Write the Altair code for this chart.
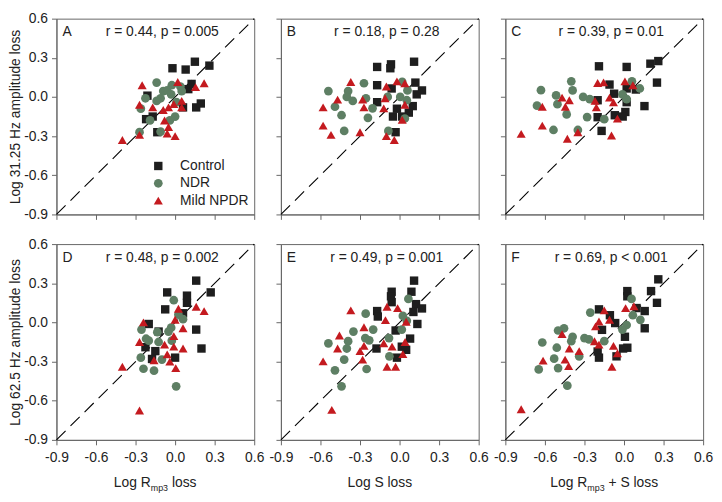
import altair as alt
import pandas as pd

FONT = "Liberation Sans"
groups = ["Control", "NDR", "Mild NPDR"]
colors = ["#1e1e1e", "#5e7f64", "#c41a1f"]
shapes = ["square", "circle", "triangle-up"]
sizes = [72, 84, 98]

ticks = [-0.9, -0.6, -0.3, 0.0, 0.3, 0.6]
diag = [-0.9, 0.6]

letters = ["A", "B", "C", "D", "E", "F"]
stats = ["r = 0.44, p = 0.005", "r = 0.18, p = 0.28", "r = 0.39, p = 0.01",
         "r = 0.48, p = 0.002", "r = 0.49, p = 0.001", "r = 0.69, p < 0.001"]
y_titles = ["Log 31.25 Hz amplitude loss", "Log 62.5 Hz amplitude loss"]
xtitle_d = ["Log R", "mp3", "loss"]
xtitle_e = ["Log S loss"]
xtitle_f = ["Log R", "mp3", "+ S loss"]

# ---- Panel A (x: log Rmp3 loss, y: log 31.25 Hz loss)
a_ctrl_x = [-0.02, 0.08, 0.15, 0.26, 0.10, 0.125, -0.21, 0.16, 0.195, 0.06, -0.22, -0.17, -0.135]
a_ctrl_y = [0.22, 0.21, 0.27, 0.24, 0.06, 0.10, 0.01, -0.08, -0.05, -0.08, -0.17, -0.15, -0.27]
a_ndr_x = [-0.14, -0.025, -0.09, -0.06, 0.04, 0.05, -0.225, -0.11, -0.14, -0.26, 0.0, -0.04, -0.19, -0.27, -0.11, -0.03, 0.01]
a_ndr_y = [0.11, 0.09, 0.045, 0.05, 0.08, 0.045, -0.01, -0.01, -0.03, -0.09, -0.15, -0.18, -0.18, -0.27, -0.265, 0.02, -0.04]
a_npdr_x = [-0.25, 0.02, 0.155, 0.22, -0.27, -0.17, -0.09, -0.05, -0.01, 0.05, 0.05, -0.08, -0.05, -0.06, 0.0, -0.27, -0.40]
a_npdr_y = [0.09, 0.115, 0.075, 0.105, -0.06, -0.08, -0.10, -0.08, -0.055, -0.03, -0.08, -0.18, -0.23, -0.28, -0.30, -0.29, -0.33]

# ---- Panel B (x: log S loss, y: log 31.25 Hz loss)
b_ctrl_x = [-0.17, -0.065, -0.07, 0.11, -0.17, -0.06, 0.12, 0.17, 0.13, -0.17, -0.02, 0.10, 0.07, -0.05, 0.02, -0.03]
b_ctrl_y = [0.23, 0.25, 0.22, 0.27, 0.09, 0.065, 0.11, 0.05, 0.02, -0.04, -0.09, -0.07, -0.12, -0.15, -0.15, -0.27]
b_ndr_x = [-0.54, -0.27, -0.39, -0.40, -0.355, -0.49, -0.255, -0.205, -0.44, -0.24, -0.42, 0.02, 0.06, 0.005, 0.055, 0.04, -0.085, -0.09]
b_ndr_y = [0.045, 0.105, 0.045, 0.0, -0.03, -0.075, -0.01, -0.087, -0.14, -0.16, -0.26, 0.115, 0.05, 0.0, -0.025, -0.165, -0.26, 0.0]
b_npdr_x = [-0.37, -0.47, -0.58, -0.28, -0.27, -0.30, -0.52, -0.58, -0.10, -0.02, 0.04, -0.11, -0.12, 0.04, 0.02, -0.10, -0.04]
b_npdr_y = [0.115, -0.02, -0.08, -0.02, -0.08, -0.27, -0.29, -0.22, 0.08, 0.12, 0.105, -0.01, -0.087, -0.06, -0.175, -0.30, -0.33]

# ---- Panel C (x: log Rmp3 + S loss, y: log 31.25 Hz loss)
c_ctrl_x = [-0.19, 0.02, 0.20, 0.26, 0.25, -0.11, -0.075, 0.02, 0.09, -0.20, 0.02, 0.155, -0.20, 0.01, -0.01, -0.07, -0.17]
c_ctrl_y = [0.235, 0.23, 0.255, 0.275, 0.11, 0.095, 0.025, 0.065, 0.057, -0.025, -0.04, -0.07, -0.155, -0.115, -0.15, -0.14, -0.26]
c_ndr_x = [-0.40, -0.39, -0.63, -0.515, -0.505, -0.66, -0.435, -0.31, -0.26, -0.28, -0.535, -0.35, -0.15, 0.06, 0.12, -0.012, 0.02]
c_ndr_y = [0.12, 0.05, 0.052, 0.012, -0.055, -0.067, -0.134, 0.0, -0.017, -0.154, -0.253, -0.253, -0.17, 0.12, 0.065, 0.02, -0.017]
c_npdr_x = [-0.78, -0.62, -0.62, -0.47, -0.415, -0.445, -0.43, -0.35, -0.20, -0.155, -0.22, -0.21, -0.11, -0.08, -0.05, -0.095, 0.007, 0.067]
c_npdr_y = [-0.283, -0.075, -0.22, -0.005, -0.025, -0.075, -0.32, -0.27, 0.107, 0.112, -0.03, -0.08, -0.005, -0.042, -0.166, -0.295, 0.12, 0.09]

# ---- Panel D (x: log Rmp3 loss, y: log 62.5 Hz loss)
d_ctrl_x = [0.16, -0.06, 0.09, 0.27, 0.09, -0.075, 0.06, -0.20, 0.16, 0.20, -0.225, -0.15, -0.175, 0.0, -0.125]
d_ctrl_y = [0.32, 0.23, 0.205, 0.23, 0.15, 0.10, 0.07, -0.012, -0.055, -0.20, -0.19, -0.22, -0.28, -0.27, -0.07]
d_ndr_x = [-0.01, 0.025, 0.06, -0.03, -0.05, -0.255, -0.135, -0.22, -0.20, -0.125, -0.26, -0.24, -0.16, -0.10, 0.008, -0.025]
d_ndr_y = [0.17, 0.06, 0.025, -0.04, -0.07, -0.055, -0.075, -0.125, -0.14, -0.15, -0.27, -0.355, -0.37, -0.285, -0.49, -0.14]
d_npdr_x = [-0.24, 0.025, 0.16, 0.22, 0.0, 0.06, -0.27, -0.01, -0.08, -0.01, 0.06, -0.06, -0.16, -0.04, 0.005, -0.40, -0.27]
d_npdr_y = [0.0, 0.105, 0.12, 0.087, 0.02, -0.045, -0.15, -0.105, -0.17, -0.186, -0.2, -0.245, -0.29, -0.30, -0.35, -0.34, -0.675]

# ---- Panel E (x: log S loss, y: log 62.5 Hz loss)
e_ctrl_x = [0.11, -0.06, 0.09, -0.065, -0.06, 0.125, 0.17, 0.105, -0.17, -0.165, 0.135, -0.03, 0.08, -0.175, 0.017, 0.05, -0.02]
e_ctrl_y = [0.32, 0.235, 0.235, 0.20, 0.155, 0.14, 0.107, 0.08, 0.087, 0.045, -0.012, -0.062, -0.124, -0.20, -0.186, -0.21, -0.27]
e_ndr_x = [0.067, -0.257, 0.025, 0.055, 0.017, -0.20, -0.35, -0.26, -0.23, -0.39, -0.54, -0.40, -0.42, -0.49, -0.25, -0.08, -0.077, -0.44]
e_ndr_y = [0.18, 0.067, 0.05, 0.012, -0.055, -0.055, -0.07, -0.12, -0.137, -0.144, -0.16, -0.2, -0.285, -0.367, -0.357, -0.12, -0.26, -0.49]
e_npdr_x = [-0.37, -0.095, -0.015, -0.107, 0.05, -0.27, -0.456, -0.47, -0.27, -0.30, -0.28, -0.58, -0.12, -0.057, 0.042, 0.025, -0.095, -0.03, -0.514]
e_npdr_y = [0.092, 0.12, 0.11, 0.017, 0.005, -0.037, -0.1, -0.2, -0.18, -0.22, -0.285, -0.298, -0.16, -0.186, -0.15, -0.243, -0.34, -0.34, -0.67]

# ---- Panel F (x: log Rmp3 + S loss, y: log 62.5 Hz loss)
f_ctrl_x = [0.26, 0.025, 0.205, 0.025, 0.25, -0.19, -0.107, 0.095, 0.157, -0.067, -0.167, 0.157, 0.007, -0.2, 0.025, -0.007, -0.057, -0.19]
f_ctrl_y = [0.33, 0.24, 0.24, 0.2, 0.15, 0.1, 0.055, 0.11, 0.087, -0.005, -0.057, -0.045, -0.11, -0.223, -0.194, -0.2, -0.26, -0.27]
f_ndr_x = [0.057, -0.256, 0.067, 0.124, 0.02, -0.012, -0.455, -0.5, -0.39, -0.4, -0.3, -0.266, -0.62, -0.51, -0.53, -0.5, -0.647, -0.34, -0.15, -0.43]
f_ndr_y = [0.18, 0.075, 0.055, 0.02, -0.02, -0.055, -0.045, -0.062, -0.11, -0.144, -0.12, -0.13, -0.154, -0.194, -0.278, -0.35, -0.36, -0.26, -0.144, -0.485]
f_npdr_x = [-0.47, -0.15, 0.012, 0.075, -0.19, -0.11, -0.216, -0.415, -0.34, -0.447, -0.42, -0.614, -0.224, -0.19, -0.08, -0.05, -0.092, -0.78]
f_npdr_y = [-0.09, 0.092, 0.11, 0.124, 0.007, 0.02, -0.03, -0.2, -0.22, -0.285, -0.335, -0.293, -0.144, -0.17, -0.18, -0.236, -0.34, -0.665]

panel_data = [
    (a_ctrl_x, a_ctrl_y, a_ndr_x, a_ndr_y, a_npdr_x, a_npdr_y),
    (b_ctrl_x, b_ctrl_y, b_ndr_x, b_ndr_y, b_npdr_x, b_npdr_y),
    (c_ctrl_x, c_ctrl_y, c_ndr_x, c_ndr_y, c_npdr_x, c_npdr_y),
    (d_ctrl_x, d_ctrl_y, d_ndr_x, d_ndr_y, d_npdr_x, d_npdr_y),
    (e_ctrl_x, e_ctrl_y, e_ndr_x, e_ndr_y, e_npdr_x, e_npdr_y),
    (f_ctrl_x, f_ctrl_y, f_ndr_x, f_ndr_y, f_npdr_x, f_npdr_y),
]

W, H = 200, 198
AX = "#666666"
LAB = "#222222"


def make_df(arrs):
    rows = []
    for k, g in enumerate(groups):
        xs, ys = arrs[2 * k], arrs[2 * k + 1]
        assert len(xs) == len(ys)
        for xv, yv in zip(xs, ys):
            rows.append({"x": xv, "y": yv, "group": g})
    return pd.DataFrame(rows)


def panel(i):
    row, col = divmod(i, 3)
    scale = alt.Scale(domain=[-0.9, 0.6], nice=False, zero=False)
    minus_fix = "replace(datum.label, '\u2212', '-')"
    xaxis = alt.Axis(values=ticks, format=".1f", labelExpr=minus_fix, labels=(row == 1),
                     title=None, grid=False, tickSize=5, labelPadding=6,
                     labelFlush=False, labelOverlap=False)
    yaxis = alt.Axis(values=ticks, format=".1f", labelExpr=minus_fix, labels=(col == 0),
                     title=(y_titles[row] if col == 0 else None), grid=False, tickSize=5,
                     labelPadding=4, titlePadding=1, labelFlush=False, labelOverlap=False)
    X = alt.X("x:Q", scale=scale, axis=xaxis)
    Y = alt.Y("y:Q", scale=scale, axis=yaxis)

    line = alt.Chart(pd.DataFrame({"x": diag, "y": diag})).mark_line(
        color="black", strokeDash=[13, 7], strokeWidth=1.1).encode(x=X, y=Y)

    if i == 0:
        leg = alt.Legend(title=None, orient="none", legendX=96, legendY=142,
                         labelFontSize=14, labelFont=FONT, labelColor=LAB,
                         symbolSize=80, symbolStrokeWidth=0, rowPadding=3.5,
                         labelOffset=15, padding=0)
    else:
        leg = None
    pts = alt.Chart(make_df(panel_data[i])).mark_point(
        filled=True, opacity=1, strokeWidth=0).encode(
        x=X, y=Y,
        color=alt.Color("group:N", scale=alt.Scale(domain=groups, range=colors), legend=leg),
        shape=alt.Shape("group:N", scale=alt.Scale(domain=groups, range=shapes), legend=leg),
        size=alt.Size("group:N", scale=alt.Scale(domain=groups, range=sizes), legend=None),
    )

    letter = alt.Chart(pd.DataFrame({"t": [letters[i]]})).mark_text(
        align="left", baseline="middle", fontSize=14, font=FONT, color=LAB).encode(
        x=alt.value(6), y=alt.value(14), text="t:N")
    stat = alt.Chart(pd.DataFrame({"t": [stats[i]]})).mark_text(
        align="center", baseline="middle", fontSize=14, font=FONT, color=LAB).encode(
        x=alt.value(107), y=alt.value(14), text="t:N")

    layers = [line, pts, letter, stat]

    if row == 1:
        base_y = H + 48
        if col == 1:
            parts = [(xtitle_e[0], 100, 14, 0, "center")]
        else:
            p = xtitle_d if col == 0 else xtitle_f
            start = 58 if col == 0 else 45.5
            parts = [(p[0], start, 14, 0, "left"),
                     (p[1], start + 37.4, 9, 4, "left"),
                     (p[2], start + 37.4 + 17.5 + 3.9, 14, 0, "left")]
        for txt, xp, fs, dy, al in parts:
            layers.append(
                alt.Chart(pd.DataFrame({"t": [txt]})).mark_text(
                    align=al, baseline="alphabetic", fontSize=fs, font=FONT, color=LAB).encode(
                    x=alt.value(xp), y=alt.value(base_y + dy), text="t:N"))

    return alt.layer(*layers).properties(width=W, height=H)


chart = alt.concat(*[panel(i) for i in range(6)], columns=3,
                   spacing={"row": 30, "column": 27}, bounds="flush").resolve_scale(
    color="independent", shape="independent", size="independent").properties(
    padding=0).configure_view(stroke=AX, strokeWidth=1).configure_axis(
    labelFont=FONT, titleFont=FONT, labelFontSize=14, titleFontSize=14,
    labelColor=LAB, titleColor=LAB, titleFontWeight="normal",
    domainColor=AX, tickColor=AX, domainWidth=1, tickWidth=1)

chart.save("out.html", embed_options={"renderer": "svg", "actions": False})
